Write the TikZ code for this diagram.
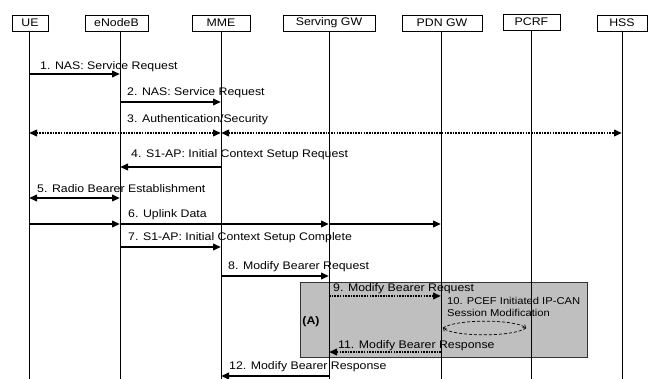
\documentclass[tikz,border=0pt]{standalone}
\usepackage{fontspec}
\setmainfont{Liberation Sans}[FakeStretch=1.12]
\usetikzlibrary{arrows.meta}
\begin{document}
\begin{tikzpicture}[x=1pt,y=-1pt,
  hdr/.style={draw, line width=0.8pt, minimum height=16pt, inner sep=0pt, font=\fontsize{11}{13}\selectfont},
  life/.style={line width=0.9pt},
  lbl/.style={anchor=west, inner sep=0pt, font=\fontsize{11}{13}\selectfont},
  tip/.style={-{Triangle[length=8pt,width=6.5pt]}},
  btip/.style={{Triangle[length=8pt,width=6.5pt]}-{Triangle[length=8pt,width=6.5pt]}},
  msg/.style={line width=2pt},
  dmsg/.style={line width=2pt, dash pattern=on 1.6pt off 1.1pt},
  boxA/.style={draw=black!80, line width=0.8pt, fill=black!25}]
\useasboundingbox (0,0) rectangle (654,379);
% header boxes
\node[hdr, minimum width=36pt] (ue) at (30,23) {UE};
\node[hdr, minimum width=63pt] (enb) at (116.5,23) {eNodeB};
\node[hdr, minimum width=58pt] (mme) at (221,23) {MME};
\node[hdr, minimum width=92pt] (sgw) at (329,23) {Serving GW};
\node[hdr, minimum width=80pt] (pgw) at (442,23) {PDN GW};
\node[hdr, minimum width=57pt] (pcrf) at (531.5,22) {PCRF};
\node[hdr, minimum width=50pt] (hss) at (622,23) {HSS};
% lifeline tops and bottoms
\coordinate (ueT) at (29,31);   \coordinate (ueB) at (29,379);
\coordinate (enbT) at (120,31); \coordinate (enbB) at (120,379);
\coordinate (mmeT) at (221,31); \coordinate (mmeB) at (221,379);
\coordinate (sgwT) at (329,31); \coordinate (sgwB) at (329,379);
\coordinate (pgwT) at (441,31); \coordinate (pgwB) at (441,379);
\coordinate (pcrfT) at (531,30); \coordinate (pcrfB) at (531,379);
\coordinate (hssT) at (622,31); \coordinate (hssB) at (622,379);
% box (A)
\node[boxA, minimum width=287pt, minimum height=75pt, inner sep=0pt] (A) at (443.5,319.5) {};
\node[font=\fontsize{11}{13}\selectfont\bfseries, inner sep=0pt] (Alabel) at (311,322) {(A)};
% lifelines
\foreach \n in {ue,enb,mme,sgw,pgw,pcrf,hss} \draw[life] (\n T) -- (\n B);
% message rows
\coordinate (r1) at (0,74);
\coordinate (r2) at (0,102);
\coordinate (r3) at (0,133);
\coordinate (r4) at (0,167);
\coordinate (r5) at (0,198);
\coordinate (r6) at (0,224);
\coordinate (r7) at (0,247);
\coordinate (r8) at (0,276);
\coordinate (r9) at (0,296);
\coordinate (r11) at (0,352);
\coordinate (r12) at (0,376);
% 1
\draw[msg,tip] (ueT |- r1) -- (enbT |- r1);
\node[lbl] (l1) at (40,67) {1. NAS: Service Request};
% 2
\draw[msg,tip] (enbT |- r2) -- (mmeT |- r2);
\node[lbl] (l2) at (127,93) {2. NAS: Service Request};
% 3
\draw[dmsg,btip] (ueT |- r3) -- (mmeT |- r3);
\draw[dmsg,btip] (mmeT |- r3) -- (hssT |- r3);
\node[lbl] (l3) at (127,120) {3. Authentication/Security};
% 4
\draw[msg,tip] (mmeT |- r4) -- (enbT |- r4);
\node[lbl] (l4) at (131,155) {4. S1-AP: Initial Context Setup Request};
% 5
\draw[msg,btip] (ueT |- r5) -- (enbT |- r5);
\node[lbl] (l5) at (37,189) {5. Radio Bearer Establishment};
% 6
\draw[msg,tip] (ueT |- r6) -- (enbT |- r6);
\draw[msg,tip] (enbT |- r6) -- (sgwT |- r6);
\draw[msg,tip] (sgwT |- r6) -- (pgwT |- r6);
\node[lbl] (l6) at (128,215) {6. Uplink Data};
% 7
\draw[msg,tip] (enbT |- r7) -- (mmeT |- r7);
\node[lbl] (l7) at (128,238) {7. S1-AP: Initial Context Setup Complete};
% 8
\draw[msg,tip] (mmeT |- r8) -- (sgwT |- r8);
\node[lbl] (l8) at (228,267) {8. Modify Bearer Request};
% 9
\draw[dmsg,tip] (sgwT |- r9) -- (pgwT |- r9);
\node[lbl] (l9) at (333,289) {9. Modify Bearer Request};
% 10
\node[anchor=north west, inner sep=0pt, align=left, font=\fontsize{10}{12}\selectfont] (l10) at (447,297.5) {10. PCEF Initiated IP-CAN\\Session Modification};
\coordinate (p10a) at (443,328);
\coordinate (p10b) at (526,328);
\draw[line width=0.7pt, dash pattern=on 3pt off 2pt, -{Straight Barb[length=2.5pt,width=4pt]}] (p10a) .. controls (455,319) and (514,319) .. (p10b);
\draw[line width=0.7pt, dash pattern=on 3pt off 2pt, -{Straight Barb[length=2.5pt,width=4pt]}] (p10b) .. controls (514,337) and (455,337) .. (p10a);
% 11
\draw[dmsg,tip] (pgwT |- r11) -- (sgwT |- r11);
\node[lbl] (l11) at (338,346) {11. Modify Bearer Response};
% 12
\draw[msg,tip] (sgwT |- r12) -- (mmeT |- r12);
\node[lbl] (l12) at (229,367) {12. Modify Bearer Response};
\end{tikzpicture}
\end{document}
